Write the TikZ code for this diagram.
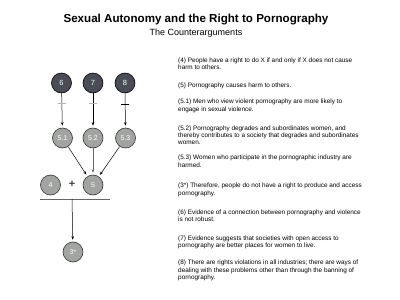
\documentclass[tikz,border=0pt]{standalone}
\usepackage{fontspec}
\setmainfont{Liberation Sans}
\usetikzlibrary{arrows.meta}
\definecolor{darkc}{HTML}{4A4D56}
\definecolor{lightc}{HTML}{A2A4A2}
\definecolor{barc}{HTML}{B4B4B4}
\begin{document}
\begin{tikzpicture}[x=1pt,y=-1pt,
  darknode/.style={circle,draw=black,line width=0.6pt,fill=darkc,minimum size=20pt,inner sep=0pt,text=white,font=\fontsize{7.5}{8}\selectfont},
  lightnode/.style={circle,draw=black!80,line width=0.6pt,fill=lightc,minimum size=20pt,inner sep=0pt,text=white,font=\fontsize{7}{8}\selectfont},
  arr/.style={-{Stealth[length=3.5pt,width=2.6pt]},line width=0.5pt,shorten >=2pt},
  graybar/.style={draw=barc,minimum width=8pt,minimum height=0pt,inner sep=0pt,line width=0.9pt},
  blackbar/.style={draw=black,minimum width=8pt,minimum height=0pt,inner sep=0pt,line width=0.5pt},
  para/.style={anchor=north west,inner sep=0pt,align=left,font=\fontsize{6.4}{7.3}\selectfont}]
\useasboundingbox (0,0) rectangle (400,300);

\node[font=\bfseries\fontsize{11.6}{13}\selectfont] (title) at (196,20) {Sexual Autonomy and the Right to Pornography};
\node[font=\fontsize{9}{10}\selectfont] (sub) at (196,33) {The Counterarguments};

\node[darknode] (n6) at (61.5,83) {6};
\node[darknode] (n7) at (93,83) {7};
\node[darknode] (n8) at (125,83) {8};
\node[lightnode] (n51) at (62.5,138) {5.1};
\node[lightnode] (n52) at (93,138) {5.2};
\node[lightnode] (n53) at (125.5,138) {5.3};
\node[lightnode] (n4) at (50.5,185) {4};
\node[lightnode] (n5) at (93,185) {5};
\node[font=\bfseries\fontsize{11}{12}\selectfont,text=black!75] (plus) at (72,184.5) {+};
\node[lightnode] (n3) at (73,252) {3*};
\coordinate (bl) at (40,199);
\coordinate (br) at (110,199);
\coordinate (bm) at (72,199);

\draw[arr] (n6) -- node[pos=0.3,graybar]{} (n51);
\draw[arr] (n7) -- node[pos=0.3,graybar]{} (n52);
\draw[arr] (n8) -- node[pos=0.32,blackbar]{} (n53);
\draw[arr] (n51) -- (n5);
\draw[arr,draw=black!60] (n52) -- (n5);
\draw[arr] (n53) -- (n5);
\draw[line width=0.6pt,black!60] (bl) -- (br);
\draw[arr] (bm) -- (n3);

\node[para] (p4) at (178,57.5) {(4) People have a right to do X if and only if X does not cause\\harm to others.};
\node[para] (p5) at (178,82.5) {(5) Pornography causes harm to others.};
\node[para] (p51) at (178,99) {(5.1) Men who view violent pornography are more likely to\\engage in sexual violence.};
\node[para] (p52) at (178,125.5) {(5.2) Pornography degrades and subordinates women, and\\thereby contributes to a society that degrades and subordinates\\women.};
\node[para] (p53) at (178,155) {(5.3) Women who participate in the pornographic industry are\\harmed.};
\node[para] (p3) at (178,183) {(3*) Therefore, people do not have a right to produce and access\\pornography.};
\node[para] (p6) at (178,209.5) {(6) Evidence of a connection between pornography and violence\\is not robust.};
\node[para] (p7) at (178,235.5) {(7) Evidence suggests that societies with open access to\\pornography are better places for women to live.};
\node[para] (p8) at (178,260) {(8) There are rights violations in all industries; there are ways of\\dealing with these problems other than through the banning of\\pornography.};
\end{tikzpicture}
\end{document}
